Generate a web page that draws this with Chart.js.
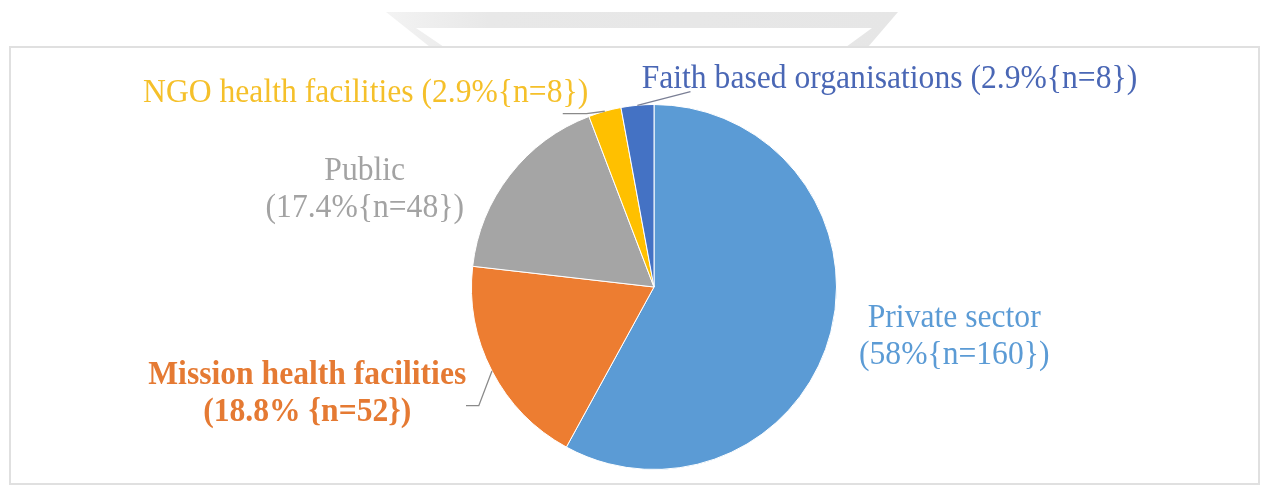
<!DOCTYPE html>
<html>
<head>
<meta charset="utf-8">
<script src="https://cdn.jsdelivr.net/npm/chart.js@4.4.1/dist/chart.umd.min.js"></script>
<style>
  html, body { margin: 0; padding: 0; background: #ffffff; }
  body { width: 1268px; height: 491px; position: relative; overflow: hidden; font-family: "Liberation Serif", serif; }
  #mark { position: absolute; left: 0; top: 0; }
  #frame {
    position: absolute; left: 9px; top: 46px;
    width: 1251px; height: 439px;
    box-sizing: border-box;
    border: 2px solid #e0e0e0;
    background: #ffffff;
  }
  #chart-box { position: absolute; left: 0; top: 0; width: 1247px; height: 435px; }
  .warm { position: absolute; visibility: hidden; font: 34px "Liberation Serif"; }
</style>
</head>
<body>
<span class="warm">Faith</span><span class="warm" style="font-weight:bold">Mission</span>
<svg id="mark" width="1268" height="60">
  <defs>
    <linearGradient id="fade" x1="0" x2="1" y1="0" y2="0">
      <stop offset="0" stop-color="#f3f3f3"/>
      <stop offset="0.2" stop-color="#e8e8e8"/>
      <stop offset="1" stop-color="#e6e6e6"/>
    </linearGradient>
  </defs>
  <polygon points="386,12 898,12 868,47 846,47 872,28 416,28 444,47 430,47" fill="url(#fade)"/>
</svg>
<div id="frame">
  <div id="chart-box"><canvas id="share-chart"></canvas></div>
</div>
<script>
// facilities by ownership type
const categories = [
    'Private sector',
    'Mission health facilities',
    'Public',
    'NGO health facilities',
    'Faith based organisations'
];
const counts = [160, 52, 48, 8, 8];
const percentText = ['58%', '18.8% ', '17.4%', '2.9%', '2.9%'];

const sliceColors = ['#5b9bd5', '#ed7d31', '#a5a5a5', '#ffc000', '#4472c4'];
const textColors = ['#5b9bd5', '#e57a33', '#a3a3a3', '#f5c02a', '#4a67b5'];

const labelFont = '"Liberation Serif", "Times New Roman", serif';

// label text lines: name first, value on the next line or on the same line
function labelLines(i) {
    const value = '(' + percentText[i] + '{n=' + counts[i] + '})';
    if (i === 3 || i === 4) {
        return [categories[i] + ' ' + value];
    }
    return [categories[i], value];
}

// where each label sits, relative to the pie centre, in radius units
const labelOffsets = [
    { dx: 1.645, dy: 0.17 },
    { dx: -1.90, dy: 0.485 },
    { dx: -1.585, dy: -0.635 },
    { dx: -1.58, dy: -1.06 },
    { dx: 1.29, dy: -1.14 }
];

const lineGap = 37;

const labelPlugin = {
    id: 'sliceLabels',
    afterDraw(chart) {
        const ctx = chart.ctx;
        const meta = chart.getDatasetMeta(0);
        const first = meta.data[0];
        const cx = first.x;
        const cy = first.y;
        const r = first.outerRadius;

        function edgePoint(arc) {
            const mid = (arc.startAngle + arc.endAngle) / 2;
            return { x: cx + Math.cos(mid) * r, y: cy + Math.sin(mid) * r };
        }

        // leader lines
        ctx.save();
        ctx.lineWidth = 1.3;
        ctx.strokeStyle = '#8a8a8a';
        // mission health facilities
        let p = edgePoint(meta.data[1]);
        ctx.beginPath();
        ctx.moveTo(p.x, p.y);
        ctx.lineTo(cx - r * 0.96, cy + r * 0.65);
        ctx.lineTo(cx - r * 1.03, cy + r * 0.65);
        ctx.stroke();
        // NGO health facilities
        p = edgePoint(meta.data[3]);
        ctx.beginPath();
        ctx.moveTo(p.x, p.y);
        ctx.lineTo(cx - r * 0.37, cy - r * 0.95);
        ctx.lineTo(cx - r * 0.50, cy - r * 0.95);
        ctx.stroke();
        // faith based organisations
        p = edgePoint(meta.data[4]);
        ctx.strokeStyle = '#7a7f95';
        ctx.beginPath();
        ctx.moveTo(p.x, p.y);
        ctx.lineTo(cx + r * 0.20, cy - r * 1.07);
        ctx.stroke();
        ctx.restore();

        // texts, slightly narrowed like the original layout
        ctx.save();
        ctx.textAlign = 'center';
        ctx.textBaseline = 'middle';
        meta.data.forEach(function(arc, i) {
            const lines = labelLines(i);
            const off = labelOffsets[i];
            const x = cx + off.dx * r;
            const y0 = cy + off.dy * r;
            ctx.fillStyle = textColors[i];
            ctx.font = (i === 1 ? 'bold ' : '') + '34px ' + labelFont;
            lines.forEach(function(line, k) {
                ctx.save();
                ctx.translate(x, y0 + k * lineGap);
                ctx.scale(0.93, 1);
                ctx.fillText(line, 0, 0);
                ctx.restore();
            });
        });
        ctx.restore();
    }
};

function buildChart() {
    const canvas = document.getElementById('share-chart');
    new Chart(canvas.getContext('2d'), {
        type: 'pie',
        data: {
            labels: categories,
            datasets: [{
                data: counts,
                backgroundColor: sliceColors,
                borderColor: '#ffffff',
                borderWidth: 1
            }]
        },
        options: {
            responsive: true,
            maintainAspectRatio: false,
            animation: false,
            layout: {
                padding: { top: 56, bottom: 13, left: 460, right: 421 }
            },
            plugins: {
                legend: { display: false },
                tooltip: { enabled: false },
                title: { display: false }
            }
        },
        plugins: [labelPlugin]
    });
}

Promise.all([
    document.fonts.load('34px "Liberation Serif"'),
    document.fonts.load('bold 34px "Liberation Serif"')
]).then(buildChart, buildChart);
</script>
</body>
</html>
